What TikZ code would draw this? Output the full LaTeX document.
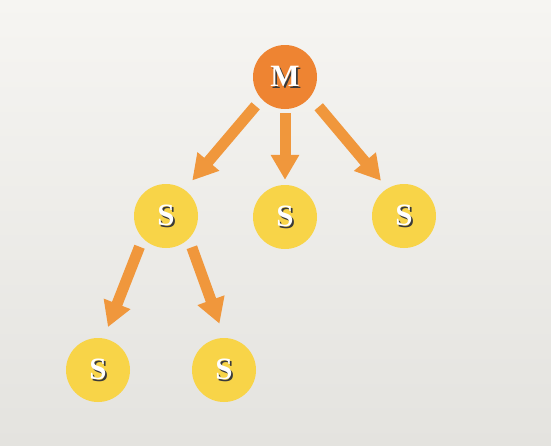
\documentclass[tikz,border=0pt]{standalone}
\usepackage{fontspec}
\setmainfont{Liberation Serif}
\usetikzlibrary{arrows.meta}
\definecolor{bgtop}{HTML}{F6F5F2}
\definecolor{bgbot}{HTML}{E4E3DF}
\definecolor{mfill}{HTML}{EE8432}
\definecolor{sfill}{HTML}{F8D448}
\definecolor{arrowc}{HTML}{F0973C}
\definecolor{shadowc}{HTML}{3A3A3A}
\newcommand{\shtext}[1]{\makebox[0pt][l]{\hspace{1.8pt}\raisebox{-1.8pt}{\color{shadowc}#1}}{\color{white}#1}}
\tikzset{
  ball/.style={circle, minimum size=64pt, inner sep=0pt, draw=none,
    font=\fontsize{31}{33}\selectfont\bfseries},
  master/.style={ball, fill=mfill},
  slave/.style={ball, fill=sfill},
  fatarrow/.style={draw=arrowc, line width=11pt,
    -{Triangle[width=27pt, length=25pt, fill=arrowc]}},
}
\begin{document}
\begin{tikzpicture}[x=1pt, y=-1pt]
\shade[top color=bgtop, bottom color=bgbot, use as bounding box] (0,0) rectangle (551,445);
\node[master] (M) at (285,77) {\shtext{M}};
\node[slave] (S1) at (166,216) {\shtext{S}};
\node[slave] (S2) at (285,217) {\shtext{S}};
\node[slave] (S3) at (404,216) {\shtext{S}};
\node[slave] (S4) at (98,370) {\shtext{S}};
\node[slave] (S5) at (224,370) {\shtext{S}};
\draw[fatarrow, shorten <=9pt, shorten >=12pt] (M.223) -- (S1.55);
\draw[fatarrow, shorten <=4pt, shorten >=5pt] (M.south) -- (S2.north);
\draw[fatarrow, shorten <=13pt, shorten >=10pt] (M.322) -- (S3.121);
\draw[fatarrow, shorten <=9pt, shorten >=12pt] (S1.224) -- (S4.80);
\draw[fatarrow, shorten <=9pt, shorten >=15pt] (S1.315) -- (S5.89);
\end{tikzpicture}
\end{document}
